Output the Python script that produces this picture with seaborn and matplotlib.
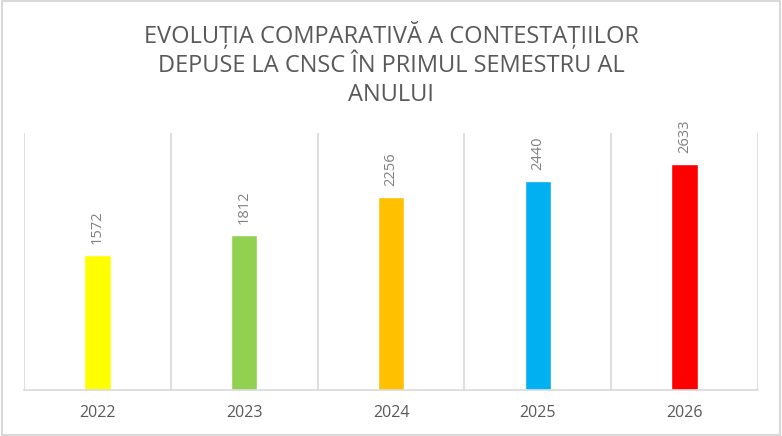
import matplotlib
matplotlib.use('Agg')
import matplotlib.pyplot as plt
import seaborn as sns
import pandas as pd

years = ['2022', '2023', '2024', '2025', '2026']
values = [1572, 1812, 2256, 2440, 2633]
colors = ['#FFFF00', '#92D050', '#FFC000', '#00B0F0', '#FF0000']
title = 'EVOLUȚIA COMPARATIVĂ A CONTESTAȚIILOR\nDEPUSE LA CNSC ÎN PRIMUL SEMESTRU AL\nANULUI'

sns.set_theme(style='white')
plt.rcParams['font.family'] = ['Open Sans', 'DejaVu Sans']

df = pd.DataFrame({'year': years, 'value': values})

fig = plt.figure(figsize=(7.82, 4.36), dpi=100)
ax = fig.add_axes([24 / 782, 46 / 436, 734 / 782, 257 / 436])
sns.barplot(data=df, x='year', y='value', hue='year', palette=colors,
            width=0.18, legend=False, ax=ax, saturation=1)

ax.set_ylim(0, 3000)
ax.set_xlim(-0.5, len(years) - 0.5)
for x in [i + 0.5 for i in range(-1, len(years))]:
    ax.axvline(x, color='#D9D9D9', lw=1.2, zorder=0)
for s in ['top', 'right', 'left']:
    ax.spines[s].set_visible(False)
ax.spines['bottom'].set_color('#D9D9D9')
ax.spines['bottom'].set_linewidth(1.2)
ax.set_yticks([])
ax.set_xlabel('')
ax.set_ylabel('')
ax.tick_params(axis='x', length=0, pad=11, labelsize=11.5, labelcolor='#595959')

for i, v in enumerate(values):
    ax.text(i, v + 130, str(v), rotation=90, ha='center', va='bottom',
            fontsize=10.5, color='#808080')

fig.text(0.5, 0.853, title, ha='center', va='center', fontsize=17,
         color='#595959', linespacing=1.3)

fig.patches.append(plt.Rectangle((0.002, 0.003), 0.996, 0.994, transform=fig.transFigure,
                                 fill=False, edgecolor='#D9D9D9', lw=1.5))

fig.savefig('out.png', dpi=100)
